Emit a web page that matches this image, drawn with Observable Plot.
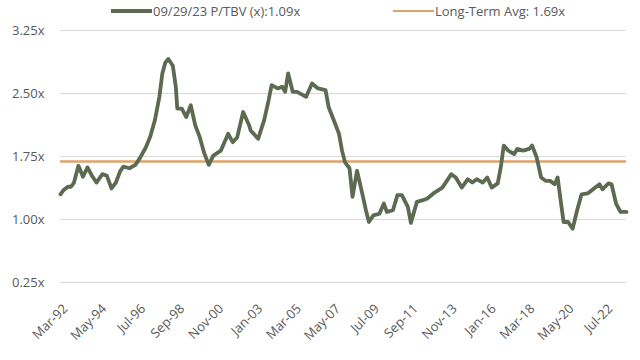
<!DOCTYPE html>
<html>
<head>
<meta charset="utf-8">
<script src="https://cdn.jsdelivr.net/npm/d3@7"></script>
<script src="https://cdn.jsdelivr.net/npm/@observablehq/plot@0.6"></script>
<style>
  html, body { margin: 0; padding: 0; background: #fff; }
  #wrap { position: relative; width: 640px; height: 360px; font-family: "Open Sans", sans-serif; color: #595959; }
  #legend { position: relative; height: 22px; width: 640px; font-size: 13px; }
  .item { position: absolute; top: 2px; display: flex; align-items: center; white-space: nowrap; }
  .sw { display: inline-block; width: 41px; margin-right: 1px; }
</style>
</head>
<body>
<div id="wrap">
  <div id="legend">
    <div class="item" style="left:111px"><span class="sw" style="height:4px;background:#5B6A51"></span><span>09/29/23 P/TBV (x):1.09x</span></div>
    <div class="item" style="left:393px"><span class="sw" style="height:2.5px;background:#DFA26A"></span><span>Long-Term Avg: 1.69x</span></div>
  </div>
  <div id="chart"></div>
</div>
<script>
const dates = ["1992-03","1992-05","1992-08","1992-10","1992-12","1993-02","1993-03","1993-06","1993-09","1993-12",
"1994-03","1994-07","1994-10","1995-01","1995-04","1995-07","1995-09","1996-01","1996-05","1996-08",
"1996-12","1997-03","1997-06","1997-09","1997-11","1998-01","1998-03","1998-06","1998-08","1998-09",
"1998-12","1999-03","1999-06","1999-09","1999-12","2000-03","2000-06","2000-09","2001-02","2001-07",
"2001-10","2002-01","2002-05","2002-09","2002-10","2003-03","2003-07","2003-10","2003-12","2004-04",
"2004-07","2004-09","2004-11","2005-02","2005-05","2005-11","2006-03","2006-07","2006-12","2007-02",
"2007-06","2007-09","2007-11","2008-01","2008-04","2008-06","2008-09","2008-12","2009-03","2009-05",
"2009-08","2009-12","2010-03","2010-05","2010-09","2010-12","2011-03","2011-07","2011-09","2012-01",
"2012-05","2012-08","2012-12","2013-06","2013-12","2014-03","2014-07","2014-11","2015-02","2015-05",
"2015-09","2015-12","2016-03","2016-07","2016-09","2016-11","2017-02","2017-06","2017-08","2017-12",
"2018-04","2018-06","2018-09","2018-12","2019-03","2019-06","2019-09","2019-11","2020-01","2020-03",
"2020-06","2020-09","2020-12","2021-03","2021-07","2021-10","2022-03","2022-05","2022-09","2022-11",
"2023-02","2023-05","2023-09"];
const ptbv = [1.30,1.35,1.39,1.39,1.44,1.58,1.64,1.51,1.62,1.52,
1.44,1.54,1.52,1.37,1.44,1.58,1.63,1.61,1.65,1.73,
1.86,1.99,2.18,2.46,2.74,2.87,2.91,2.83,2.58,2.32,
2.32,2.22,2.36,2.12,1.98,1.79,1.65,1.76,1.82,2.02,
1.92,1.98,2.28,2.12,2.06,1.96,2.18,2.42,2.60,2.56,
2.58,2.52,2.74,2.52,2.52,2.46,2.62,2.56,2.54,2.34,
2.16,2.02,1.82,1.68,1.61,1.27,1.58,1.35,1.11,0.97,
1.05,1.07,1.19,1.09,1.11,1.29,1.29,1.15,0.96,1.21,
1.23,1.25,1.31,1.38,1.54,1.50,1.38,1.48,1.44,1.48,
1.44,1.50,1.38,1.43,1.62,1.88,1.82,1.78,1.84,1.82,
1.84,1.88,1.74,1.50,1.46,1.46,1.42,1.50,1.23,0.97,
0.97,0.89,1.11,1.30,1.31,1.35,1.42,1.36,1.43,1.42,
1.19,1.09,1.09];
const longTermAvg = 1.69;
const xTickLabels = ["Mar-92","May-94","Jul-96","Sep-98","Nov-00","Jan-03","Mar-05","May-07","Jul-09","Sep-11","Nov-13","Jan-16","Mar-18","May-20","Jul-22"];
const yTicks = [0.25, 1.00, 1.75, 2.50, 3.25];

const parseYM = d3.utcParse("%Y-%m");
const parseTick = d3.utcParse("%b-%y");
const data = dates.map((d, i) => ({date: parseYM(d), value: ptbv[i]}));
const xTicks = xTickLabels.map(parseTick);

const chart = Plot.plot({
  width: 640,
  height: 338,
  marginTop: 8,
  marginBottom: 78,
  marginLeft: 60,
  marginRight: 14,
  style: {fontFamily: "'Open Sans', sans-serif", color: "#595959", background: "#fff"},
  x: {type: "utc", domain: [data[0].date, data[data.length - 1].date]},
  y: {domain: [0.25, 3.25]},
  marks: [
    Plot.ruleY(yTicks, {stroke: "#d9d9d9", strokeWidth: 1}),
    Plot.ruleY([longTermAvg], {stroke: "#DFA26A", strokeWidth: 2.5}),
    Plot.line(data, {x: "date", y: "value", stroke: "#5B6A51", strokeWidth: 3.8, strokeLinejoin: "round", strokeLinecap: "round"}),
    Plot.axisY({ticks: yTicks, tickFormat: d => d.toFixed(2) + "x", tickSize: 0, tickPadding: 16, fontSize: 13, label: null, fill: "#595959"}),
    Plot.axisX({ticks: xTicks, tickFormat: (d, i) => xTickLabels[i], tickRotate: -45, tickSize: 0, tickPadding: 16, dx: 5, dy: 8, fontSize: 13, label: null, fill: "#595959"})
  ]
});
document.getElementById("chart").appendChild(chart);
</script>
</body>
</html>
